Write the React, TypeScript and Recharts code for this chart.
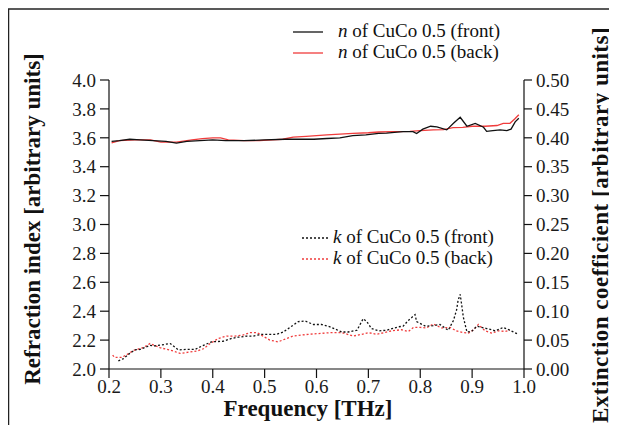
import { LineChart, Line, XAxis, YAxis } from 'recharts';

// 频率 [THz] 与各序列的取值
const nFrontFreq = [0.205, 0.22, 0.24, 0.26, 0.285, 0.31, 0.33, 0.35, 0.375, 0.40, 0.425, 0.46, 0.50, 0.54, 0.57, 0.595, 0.62, 0.645, 0.67, 0.695, 0.72, 0.735, 0.75, 0.767, 0.786, 0.793, 0.805, 0.82, 0.832, 0.851, 0.864, 0.877, 0.89, 0.906, 0.922, 0.928, 0.94, 0.954, 0.967, 0.975, 0.983, 0.99];
const nFrontVal = [3.575, 3.58, 3.59, 3.585, 3.58, 3.575, 3.563, 3.575, 3.58, 3.585, 3.58, 3.58, 3.585, 3.59, 3.59, 3.59, 3.595, 3.6, 3.615, 3.62, 3.63, 3.632, 3.638, 3.643, 3.643, 3.63, 3.66, 3.68, 3.675, 3.655, 3.7, 3.742, 3.68, 3.7, 3.673, 3.645, 3.65, 3.655, 3.65, 3.66, 3.71, 3.735];

const nBackFreq = [0.205, 0.22, 0.25, 0.28, 0.3, 0.33, 0.36, 0.38, 0.4, 0.415, 0.43, 0.46, 0.49, 0.515, 0.535, 0.555, 0.58, 0.6, 0.62, 0.645, 0.67, 0.7, 0.72, 0.747, 0.78, 0.8, 0.825, 0.845, 0.863, 0.882, 0.9, 0.925, 0.948, 0.96, 0.973, 0.982, 0.99];
const nBackVal = [3.565, 3.58, 3.585, 3.585, 3.57, 3.57, 3.585, 3.595, 3.6, 3.6, 3.585, 3.58, 3.58, 3.585, 3.59, 3.605, 3.61, 3.615, 3.62, 3.625, 3.63, 3.635, 3.64, 3.643, 3.645, 3.65, 3.655, 3.657, 3.67, 3.672, 3.68, 3.68, 3.685, 3.7, 3.7, 3.73, 3.76];

const kFrontFreq = [0.218, 0.228, 0.24, 0.25, 0.26, 0.279, 0.289, 0.318, 0.334, 0.35, 0.366, 0.382, 0.398, 0.42, 0.437, 0.449, 0.466, 0.478, 0.494, 0.523, 0.536, 0.552, 0.565, 0.578, 0.594, 0.61, 0.626, 0.636, 0.649, 0.661, 0.678, 0.69, 0.697, 0.706, 0.72, 0.735, 0.758, 0.767, 0.777, 0.79, 0.793, 0.81, 0.825, 0.838, 0.854, 0.864, 0.87, 0.873, 0.877, 0.88, 0.883, 0.89, 0.899, 0.909, 0.928, 0.945, 0.96, 0.973, 0.989];
const kFrontVal = [0.014, 0.018, 0.027, 0.033, 0.034, 0.041, 0.04, 0.044, 0.033, 0.034, 0.034, 0.041, 0.047, 0.048, 0.053, 0.055, 0.057, 0.057, 0.06, 0.06, 0.064, 0.074, 0.082, 0.083, 0.077, 0.077, 0.073, 0.069, 0.064, 0.064, 0.067, 0.087, 0.082, 0.07, 0.066, 0.067, 0.073, 0.074, 0.084, 0.094, 0.082, 0.074, 0.075, 0.077, 0.067, 0.084, 0.102, 0.119, 0.129, 0.11, 0.09, 0.064, 0.065, 0.074, 0.07, 0.066, 0.072, 0.067, 0.06];

const kBackFreq = [0.207, 0.211, 0.224, 0.233, 0.247, 0.266, 0.279, 0.298, 0.311, 0.324, 0.337, 0.369, 0.382, 0.395, 0.411, 0.427, 0.443, 0.459, 0.472, 0.485, 0.51, 0.526, 0.543, 0.555, 0.584, 0.629, 0.649, 0.671, 0.687, 0.7, 0.716, 0.745, 0.764, 0.777, 0.787, 0.8, 0.812, 0.825, 0.841, 0.857, 0.87, 0.883, 0.893, 0.903, 0.912, 0.925, 0.938, 0.951, 0.964, 0.973];
const kBackVal = [0.024, 0.02, 0.02, 0.024, 0.032, 0.037, 0.044, 0.037, 0.034, 0.031, 0.027, 0.031, 0.035, 0.044, 0.053, 0.057, 0.057, 0.059, 0.063, 0.063, 0.05, 0.047, 0.053, 0.057, 0.06, 0.063, 0.063, 0.057, 0.06, 0.063, 0.06, 0.066, 0.068, 0.065, 0.072, 0.072, 0.071, 0.078, 0.071, 0.072, 0.066, 0.063, 0.062, 0.068, 0.077, 0.066, 0.062, 0.066, 0.065, 0.067];

const freqTicks = [0.2, 0.3, 0.4, 0.5, 0.6, 0.7, 0.8, 0.9, 1.0];
const nTicks = [2.0, 2.2, 2.4, 2.6, 2.8, 3.0, 3.2, 3.4, 3.6, 3.8, 4.0];
const kTicks = [0, 0.05, 0.1, 0.15, 0.2, 0.25, 0.3, 0.35, 0.4, 0.45, 0.5];

const toRows = (f: number[], v: number[]) => f.map((x, i) => ({ f: x, v: v[i] }));

const FONT = '"Liberation Serif", serif';
const RED = '#f03c3c';
const tickStyle = { fontSize: 19, fill: '#1a1a1a', fontFamily: FONT };

export default function App() {
  return (
    <div style={{ position: 'relative', width: 609, height: 417, fontFamily: FONT, overflow: 'hidden' }}>
      <LineChart width={609} height={417} margin={{ top: 72, right: 33, bottom: 26, left: 41 }}>
        <XAxis
          dataKey="f"
          type="number"
          domain={[0.2, 1.0]}
          ticks={freqTicks}
          tickFormatter={(t: number) => t.toFixed(1)}
          allowDuplicatedCategory={false}
          height={30}
          tickSize={9}
          tickMargin={2}
          tick={tickStyle}
          stroke="#111"
          strokeWidth={1.2}
        />
        <YAxis
          yAxisId="n"
          orientation="left"
          domain={[2, 4]}
          ticks={nTicks}
          tickFormatter={(t: number) => t.toFixed(1)}
          width={60}
          tickSize={9}
          tickMargin={4}
          tick={tickStyle}
          stroke="#111"
          strokeWidth={1.2}
        />
        <YAxis
          yAxisId="k"
          orientation="right"
          domain={[0, 0.5]}
          ticks={kTicks}
          tickFormatter={(t: number) => t.toFixed(2)}
          width={60}
          tickSize={8}
          tickMargin={4}
          tick={tickStyle}
          stroke="#111"
          strokeWidth={1.2}
        />
        <Line yAxisId="n" data={toRows(nBackFreq, nBackVal)} dataKey="v" stroke={RED} strokeWidth={1.3} dot={false} isAnimationActive={false} />
        <Line yAxisId="n" data={toRows(nFrontFreq, nFrontVal)} dataKey="v" stroke="#111" strokeWidth={1.3} dot={false} isAnimationActive={false} />
        <Line yAxisId="k" data={toRows(kBackFreq, kBackVal)} dataKey="v" stroke={RED} strokeWidth={1.3} strokeDasharray="2 2" dot={false} isAnimationActive={false} />
        <Line yAxisId="k" data={toRows(kFrontFreq, kFrontVal)} dataKey="v" stroke="#111" strokeWidth={1.3} strokeDasharray="2 2" dot={false} isAnimationActive={false} />
      </LineChart>

      {/* 外框、轴标题与图例 */}
      <svg width={609} height={417} style={{ position: 'absolute', left: 0, top: 0, pointerEvents: 'none' }}>
        <line x1={0} y1={1} x2={609} y2={1} stroke="#222" strokeWidth={1.5} />
        <line x1={0.5} y1={1} x2={0.5} y2={417} stroke="#222" strokeWidth={1.5} />

        <text x={300} y={408} textAnchor="middle" fontSize={23} fontWeight="bold" fill="#111" fontFamily={FONT}>Frequency [THz]</text>
        <text transform="translate(32,211) rotate(-90)" textAnchor="middle" fontSize={23} fontWeight="bold" fill="#111" fontFamily={FONT}>Refraction index [arbitrary units]</text>
        <text transform="translate(600,217) rotate(-90)" textAnchor="middle" fontSize={23} fontWeight="bold" letterSpacing={0.5} fill="#111" fontFamily={FONT}>Extinction coefficient [arbitrary units]</text>

        <line x1={285} y1={24} x2={315} y2={24} stroke="#111" strokeWidth={1.3} />
        <text x={330} y={29} fontSize={19} fill="#111" fontFamily={FONT}><tspan fontStyle="italic">n</tspan> of CuCo 0.5 (front)</text>
        <line x1={285} y1={45} x2={315} y2={45} stroke={RED} strokeWidth={1.3} />
        <text x={330} y={50} fontSize={19} fill="#111" fontFamily={FONT}><tspan fontStyle="italic">n</tspan> of CuCo 0.5 (back)</text>

        <line x1={294} y1={230} x2={322} y2={230} stroke="#111" strokeWidth={1.3} strokeDasharray="2 2" />
        <text x={325} y={235} fontSize={19} fill="#111" fontFamily={FONT}><tspan fontStyle="italic">k</tspan> of CuCo 0.5 (front)</text>
        <line x1={294} y1={251} x2={322} y2={251} stroke={RED} strokeWidth={1.3} strokeDasharray="2 2" />
        <text x={325} y={256} fontSize={19} fill="#111" fontFamily={FONT}><tspan fontStyle="italic">k</tspan> of CuCo 0.5 (back)</text>
      </svg>
    </div>
  );
}
